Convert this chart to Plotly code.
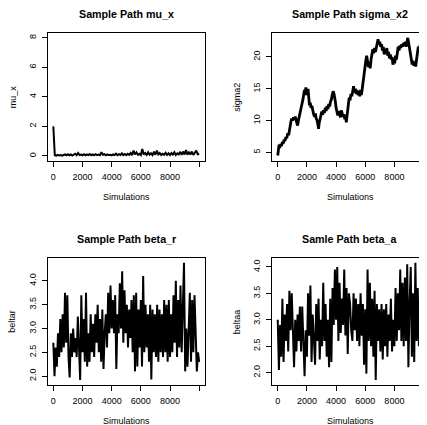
import plotly.graph_objects as go

# ---------------- data ----------------
mu_x_iter = list(range(0, 10001, 100))
mu_x_vals = [
    2.0, 0.05, 0.02, 0.08, 0.03, 0.06, 0.02, 0.07, 0.1, 0.04,
    0.12, 0.05, 0.1, 0.03, 0.08, 0.15, 0.05, 0.2, 0.06, 0.1,
    0.05, 0.12, 0.04, 0.1, 0.06, 0.13, 0.05, 0.1, 0.04, 0.12,
    0.06, 0.1, 0.05, 0.25, 0.08, 0.12, 0.04, 0.1, 0.06, 0.08,
    0.04, 0.1, 0.06, 0.15, 0.05, 0.12, 0.07, 0.18, 0.06, 0.13,
    0.05, 0.15, 0.08, 0.2, 0.06, 0.36, 0.1, 0.25, 0.08, 0.15,
    0.06, 0.48, 0.1, 0.2, 0.07, 0.25, 0.09, 0.18, 0.06, 0.3,
    0.08, 0.36, 0.1, 0.2, 0.06, 0.15, 0.08, 0.22, 0.07, 0.18,
    0.06, 0.2, 0.09, 0.25, 0.07, 0.18, 0.1, 0.28, 0.08, 0.3,
    0.1, 0.4, 0.08, 0.25, 0.1, 0.3, 0.07, 0.2, 0.36, 0.12,
    0.15,
]

sigma2_iter = [
    0, 40, 90, 140, 200, 260, 320, 380, 440, 500, 560, 620, 690, 750, 800, 850,
    900, 960, 1020, 1080, 1140, 1200, 1260, 1310, 1360, 1420, 1480, 1540, 1600,
    1660, 1720, 1780, 1830, 1880, 1930, 1980, 2030, 2080, 2130, 2180, 2230, 2280,
    2340, 2400, 2460, 2520, 2580, 2640, 2700, 2760, 2800, 2840, 2900, 2960, 3020,
    3080, 3140, 3200, 3260, 3320, 3380, 3440, 3500, 3560, 3620, 3680, 3740, 3800,
    3860, 3900, 3950, 4000, 4060, 4120, 4180, 4240, 4300, 4360, 4420, 4480, 4540,
    4600, 4660, 4700, 4740, 4790, 4840, 4900, 4960, 5020, 5080, 5140, 5200, 5260,
    5320, 5380, 5440, 5500, 5560, 5620, 5680, 5740, 5800, 5860, 5920, 5980, 6040,
    6100, 6160, 6220, 6280, 6340, 6400, 6460, 6520, 6580, 6640, 6700, 6760, 6820,
    6880, 6940, 7000, 7060, 7120, 7180, 7240, 7300, 7360, 7420, 7480, 7540, 7600,
    7660, 7720, 7780, 7840, 7900, 7960, 8020, 8080, 8140, 8200, 8260, 8320, 8380,
    8440, 8500, 8560, 8620, 8680, 8740, 8800, 8860, 8920, 8980, 9040, 9100, 9160,
    9220, 9280, 9340, 9400, 9460, 9520, 9580, 9640, 9700, 9760, 9820, 9860, 9900,
    9950, 10000,
]
sigma2_vals = [
    4.5, 5.6, 6.2, 5.7, 6.3, 6.0, 6.6, 6.4, 7.0, 6.8, 7.4, 7.2, 8.0, 7.7, 8.6, 8.8,
    9.8, 10.3, 10.0, 10.5, 10.1, 10.6, 10.2, 9.6, 9.2, 10.0, 10.8, 11.2, 12.0,
    12.6, 13.2, 13.8, 14.8, 14.2, 15.2, 14.0, 14.6, 15.0, 13.6, 12.4, 12.8, 12.0,
    12.3, 11.4, 11.0, 10.6, 11.1, 10.3, 10.0, 9.3, 8.7, 9.6, 10.6, 10.8, 11.4,
    10.9, 11.6, 11.2, 12.0, 11.5, 12.3, 11.8, 12.6, 12.2, 13.0, 13.3, 14.1, 14.6,
    14.2, 13.8, 13.0, 12.0, 11.2, 10.8, 11.5, 11.0, 10.5, 11.6, 11.2, 10.6, 11.0,
    10.2, 10.8, 9.7, 10.5, 11.8, 12.8, 13.6, 13.2, 14.2, 13.8, 14.6, 15.4, 14.4,
    15.0, 14.2, 14.8, 14.0, 14.6, 13.8, 14.8, 14.0, 15.2, 16.2, 17.0, 18.2, 19.4,
    20.2, 19.0, 18.4, 19.2, 18.2, 19.6, 20.4, 21.2, 20.6, 21.4, 20.8, 21.6, 22.2,
    22.8, 22.0, 22.4, 21.6, 22.0, 21.0, 21.6, 20.4, 21.2, 20.6, 21.4, 20.2, 20.8,
    19.8, 20.4, 19.6, 20.0, 18.8, 19.4, 19.0, 20.2, 19.6, 20.8, 21.6, 21.0, 21.8,
    21.4, 22.0, 21.6, 22.2, 21.8, 22.4, 21.6, 22.4, 23.0, 22.2, 21.2, 20.2, 19.2,
    18.8, 19.4, 18.6, 19.0, 18.5, 19.6, 20.8, 21.6, 21.0, 21.8, 22.6, 21.6, 22.2,
    21.4, 22.0,
]

beta_iter = list(range(0, 10000, 80)) + [10000]
beta_r_vals = [
    2.7, 2.0, 2.6, 2.2, 2.9, 2.4, 3.2, 2.5, 3.3, 2.6,
    3.75, 2.7, 3.7, 2.4, 1.97, 2.9, 2.4, 3.0, 2.5, 2.8,
    2.4, 3.25, 2.6, 1.92, 3.7, 2.5, 3.2, 2.3, 3.75, 2.2,
    2.9, 2.3, 3.3, 2.5, 3.1, 2.4, 3.3, 2.7, 3.5, 2.5,
    3.2, 2.3, 3.4, 2.15, 2.9, 3.3, 2.6, 3.75, 2.9, 3.9,
    3.0, 3.6, 2.9, 3.7, 2.15, 3.3, 2.9, 3.95, 3.0, 4.2,
    2.7, 3.8, 2.9, 3.5, 2.6, 3.4, 2.8, 3.6, 2.5, 3.7,
    2.1, 3.75, 2.2, 3.4, 2.6, 3.6, 2.2, 4.1, 2.5, 3.5,
    2.6, 3.3, 2.3, 3.5, 1.93, 3.4, 2.5, 3.3, 2.4, 3.5,
    2.3, 3.4, 2.5, 3.3, 2.4, 3.6, 2.5, 3.5, 2.3, 3.6,
    2.4, 3.3, 2.5, 3.7, 2.7, 4.0, 2.4, 3.6, 2.6, 3.9,
    2.5, 3.8, 4.38, 2.1, 3.0, 2.2, 3.2, 3.75, 2.3, 3.6,
    2.5, 3.7, 2.9, 2.1, 2.5,
    2.3,
]
beta_a_vals = [
    3.0, 2.05, 2.9, 2.3, 3.4, 2.2, 3.1, 2.6, 3.3, 2.4,
    3.55, 2.8, 3.5, 2.5, 2.1, 3.0, 2.4, 3.1, 2.6, 3.25,
    2.4, 3.25, 2.6, 1.93, 2.8, 2.3, 3.5, 2.7, 3.65, 2.2,
    3.1, 2.5, 2.15, 3.3, 2.6, 3.4, 2.25, 3.0, 2.5, 3.7,
    2.6, 3.3, 2.3, 3.0, 2.1, 3.4, 2.2, 3.6, 2.9, 3.95,
    3.0, 4.0, 2.6, 3.7, 2.75, 3.4, 2.9, 3.95, 2.7, 3.6,
    2.35, 3.5, 3.3, 2.8, 2.6, 3.5, 2.8, 3.4, 2.6, 3.3,
    2.5, 3.5, 2.7, 3.3, 2.15, 3.2, 1.98, 3.95, 2.6, 3.7,
    2.5, 3.4, 2.3, 3.55, 1.86, 3.3, 2.6, 3.2, 2.4, 3.3,
    2.25, 3.2, 2.5, 3.3, 2.3, 3.1, 2.6, 3.4, 2.4, 3.0,
    2.5, 3.6, 2.6, 3.5, 2.8, 3.95, 2.6, 3.7, 2.5, 3.8,
    2.6, 4.05, 2.1, 3.3, 4.0, 2.3, 3.5, 2.2, 4.08, 2.6,
    3.6, 2.5, 3.4, 2.05, 2.6,
    2.4,
]

x_tickvals = [0, 2000, 4000, 6000, 8000, 10000]
x_ticktext = ["0", "2000", "4000", "6000", "8000", ""]

titles = ["Sample Path mu_x", "Sample Path sigma_x2", "Sample Path beta_r", "Samle Path beta_a"]
ylabels = ["mu_x", "sigma2", "beltar", "beltaa"]
xlabel = "Simulations"

# ---------------- figure ----------------
# the page body has an 8px margin, so the figure is drawn 8px in from the top-left
OFF = 8
W, H = 427 - OFF, 425 - OFF
FONT = "Liberation Sans, Arial, Helvetica, sans-serif"


def fx(px):
    return (px - OFF) / W


def fy(py):
    return 1 - (py - OFF) / H


fig = go.Figure()

panels = [
    dict(x=mu_x_iter, y=mu_x_vals, width=2.0,
         xdom=[47.5, 205.0], ydom=[33.0, 160.7], xr=[-400, 10400], yr=[-0.32, 8.32],
         yt=[0, 2, 4, 6, 8], ytt=["0", "2", "4", "6", "8"], right=True),
    dict(x=sigma2_iter, y=sigma2_vals, width=2.8,
         xdom=[271.9, 427.0], ydom=[33.0, 160.7], xr=[-400, 10236], yr=[3.68, 23.77],
         yt=[5, 10, 15, 20], ytt=["5", "10", "15", "20"], right=False),
    dict(x=beta_iter, y=beta_r_vals, width=2.0,
         xdom=[47.5, 205.0], ydom=[258.0, 384.7], xr=[-400, 10400], yr=[1.82, 4.48],
         yt=[2.0, 2.5, 3.0, 3.5, 4.0], ytt=["2.0", "2.5", "3.0", "3.5", "4.0"], right=True),
    dict(x=beta_iter, y=beta_a_vals, width=2.0,
         xdom=[271.9, 427.0], ydom=[258.0, 384.7], xr=[-400, 10236], yr=[1.77, 4.17],
         yt=[2.0, 2.5, 3.0, 3.5, 4.0], ytt=["2.0", "2.5", "3.0", "3.5", "4.0"], right=False),
]

layout = dict(
    width=W, height=H, margin=dict(l=0, r=0, t=0, b=0),
    paper_bgcolor="white", plot_bgcolor="white", showlegend=False,
    font=dict(family=FONT, size=9, color="black"),
)
annotations = []

for i, p in enumerate(panels):
    n = "" if i == 0 else str(i + 1)
    fig.add_trace(go.Scatter(x=p["x"], y=p["y"], mode="lines", xaxis="x" + n, yaxis="y" + n,
                             line=dict(color="black", width=p["width"]), hoverinfo="skip"))
    xd = [fx(p["xdom"][0]), min(1.0, fx(p["xdom"][1]))]
    yd = [fy(p["ydom"][1]), fy(p["ydom"][0])]
    layout["xaxis" + n] = dict(
        domain=xd, range=p["xr"], anchor="y" + n, tickmode="array",
        tickvals=x_tickvals, ticktext=x_ticktext, ticks="outside", ticklen=5,
        tickcolor="black", tickwidth=1, showline=True, linecolor="black", linewidth=1,
        mirror=True, showgrid=False, zeroline=False, ticklabelstandoff=2,
        tickfont=dict(family=FONT, size=9, color="black"),
    )
    layout["yaxis" + n] = dict(
        domain=yd, range=p["yr"], anchor="x" + n, tickmode="array",
        tickvals=p["yt"], ticktext=p["ytt"], ticks="outside", ticklen=5,
        tickcolor="black", tickwidth=1, showline=True, linecolor="black", linewidth=1,
        mirror=p["right"], showgrid=False, zeroline=False, tickangle=-90,
        ticklabelstandoff=2,
        tickfont=dict(family=FONT, size=9, color="black"),
    )
    right_edge = p["xdom"][1] if p["right"] else 429.0
    cx = (p["xdom"][0] + right_edge) / 2
    top, bot = p["ydom"]
    annotations.append(dict(x=fx(cx), y=fy(top - 19.5), xref="paper", yref="paper",
                            text="<b>" + titles[i] + "</b>", showarrow=False,
                            font=dict(family=FONT, size=10.7, color="black"),
                            xanchor="center", yanchor="middle"))
    annotations.append(dict(x=fx(cx), y=fy(bot + 36.0), xref="paper", yref="paper",
                            text=xlabel, showarrow=False,
                            font=dict(family=FONT, size=9, color="black"),
                            xanchor="center", yanchor="middle"))
    annotations.append(dict(x=fx(p["xdom"][0] - 35.0), y=fy((top + bot) / 2),
                            xref="paper", yref="paper", text=ylabels[i], showarrow=False,
                            textangle=-90, font=dict(family=FONT, size=9, color="black"),
                            xanchor="center", yanchor="middle"))

layout["annotations"] = annotations
fig.update_layout(**layout)
fig.write_html("out.html")
